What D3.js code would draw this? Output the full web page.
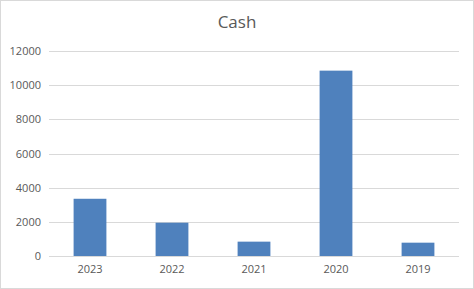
<!DOCTYPE html>
<html><head><meta charset="utf-8">
<script src="https://cdn.jsdelivr.net/npm/d3@7"></script>
<style>body{margin:0;background:#fff}svg{display:block}</style>
</head><body>
<script>
const categories = ["2023","2022","2021","2020","2019"];
const cashValues = [3350,1950,840,10850,780];
const yTicks = [0,2000,4000,6000,8000,10000,12000];
const title = "Cash";

const W=474,H=289;
const m={left:49,right:15,top:51,bottom:33};
const svg=d3.select("body").append("svg").attr("width",W).attr("height",H);
svg.append("rect").attr("x",0.5).attr("y",0.5).attr("width",W-1).attr("height",H-1)
  .attr("fill","#fff").attr("stroke","#d9d9d9");
const x=d3.scaleBand().domain(categories).range([m.left,W-m.right]).paddingInner(0.6).paddingOuter(0.3);
const y=d3.scaleLinear().domain([0,12000]).range([H-m.bottom,m.top]);
const font="'Open Sans', 'Liberation Sans', sans-serif";
const grid=svg.append("g").attr("transform",`translate(${m.left},0)`)
  .call(d3.axisLeft(y).tickValues(yTicks).tickSize(-(W-m.left-m.right)).tickFormat(d3.format("d")).tickPadding(8));
grid.select(".domain").remove();
grid.selectAll(".tick line").attr("stroke","#d9d9d9").attr("shape-rendering","crispEdges");
grid.selectAll(".tick text").attr("fill","#595959").style("font-family",font).style("font-size","11px");
svg.append("g").selectAll("rect").data(categories).join("rect")
  .attr("x",d=>x(d)).attr("width",x.bandwidth())
  .attr("y",(d,i)=>y(cashValues[i])).attr("height",(d,i)=>y(0)-y(cashValues[i]))
  .attr("fill","#4f81bd");
const xa=svg.append("g").attr("transform",`translate(0,${H-m.bottom})`)
  .call(d3.axisBottom(x).tickSize(0).tickPadding(9));
xa.select(".domain").remove();
xa.selectAll(".tick text").attr("fill","#595959").style("font-family",font).style("font-size","11px");
svg.append("text").attr("x",237).attr("y",28).attr("text-anchor","middle")
  .attr("fill","#595959").style("font-family",font).style("font-size","17px").text(title);
</script>
</body></html>
